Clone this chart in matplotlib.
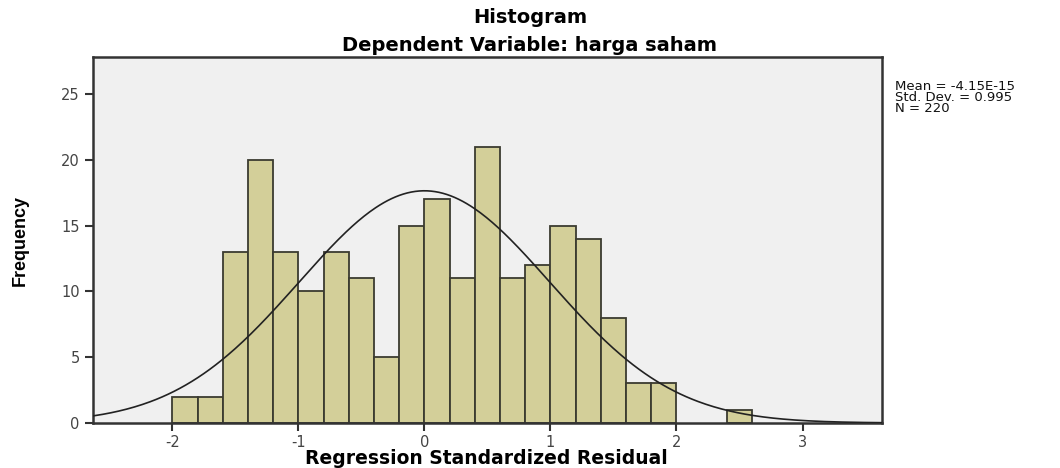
import matplotlib
matplotlib.use("Agg")
import matplotlib.pyplot as plt
import numpy as np

# histogram bins (width 0.2) and counts
bin_left = [-2.0, -1.8, -1.6, -1.4, -1.2, -1.0, -0.8, -0.6, -0.4, -0.2,
            0.0, 0.2, 0.4, 0.6, 0.8, 1.0, 1.2, 1.4, 1.6, 1.8, 2.0, 2.2, 2.4]
counts = [2, 2, 13, 20, 13, 10, 13, 11, 5, 15,
          17, 11, 21, 11, 12, 15, 14, 8, 3, 3, 0, 0, 1]
bin_width = 0.2

mean_val = -4.15e-15
std_val = 0.995
n_obs = 220

x_ticks = [-2, -1, 0, 1, 2, 3]
y_ticks = [0, 5, 10, 15, 20, 25]

plt.rcParams["font.family"] = ["DejaVu Sans"]

fig = plt.figure(figsize=(10.6, 4.68), dpi=100)
ax = fig.add_axes([0.0877, 0.0962, 0.7443, 0.7818])
ax.set_facecolor("#f0f0f0")

nonzero = [(l, c) for l, c in zip(bin_left, counts) if c > 0]
ax.bar([l for l, _ in nonzero], [c for _, c in nonzero], width=bin_width,
       align="edge", color="#d3cf99", edgecolor="#3b3b30", linewidth=1.3,
       zorder=2)

# fitted normal curve scaled to counts
xs = np.linspace(-2.63, 3.63, 400)
ys = n_obs * bin_width / (std_val * np.sqrt(2 * np.pi)) * np.exp(-0.5 * ((xs - mean_val) / std_val) ** 2)
ax.plot(xs, ys, color="#222222", linewidth=1.2, zorder=3)

ax.set_xlim(-2.63, 3.63)
ax.set_ylim(0, 27.8)
ax.set_xticks(x_ticks)
ax.set_xticklabels([str(v) for v in x_ticks])
ax.set_yticks(y_ticks)
ax.tick_params(axis="both", direction="out", length=6, width=1.5,
               color="#333333", labelcolor="#444444", labelsize=10.5)
ax.tick_params(axis="x", pad=3)
for side in ax.spines.values():
    side.set_color("#333333")
    side.set_linewidth(1.8)

# axis titles placed in figure coords so they stay inside the canvas
fig.text(0.459, 0.021, "Regression Standardized Residual", ha="center",
         va="center", fontsize=13.5, fontweight="bold")
fig.text(0.019, 0.487, "Frequency", ha="center", va="center", rotation=90,
         fontsize=13, fontweight="bold",
         family=["Liberation Sans Narrow", "Liberation Sans", "DejaVu Sans"])

fig.text(0.5, 0.963, "Histogram", ha="center", va="center",
         fontsize=14, fontweight="bold")
fig.text(0.5, 0.903, "Dependent Variable: harga saham", ha="center",
         va="center", fontsize=14, fontweight="bold")

fig.text(0.844, 0.828, "Mean = -4.15E-15\nStd. Dev. = 0.995\nN = 220",
         ha="left", va="top", fontsize=9.5, linespacing=0.8, color="#111111")

fig.savefig("out.png", dpi=100)
